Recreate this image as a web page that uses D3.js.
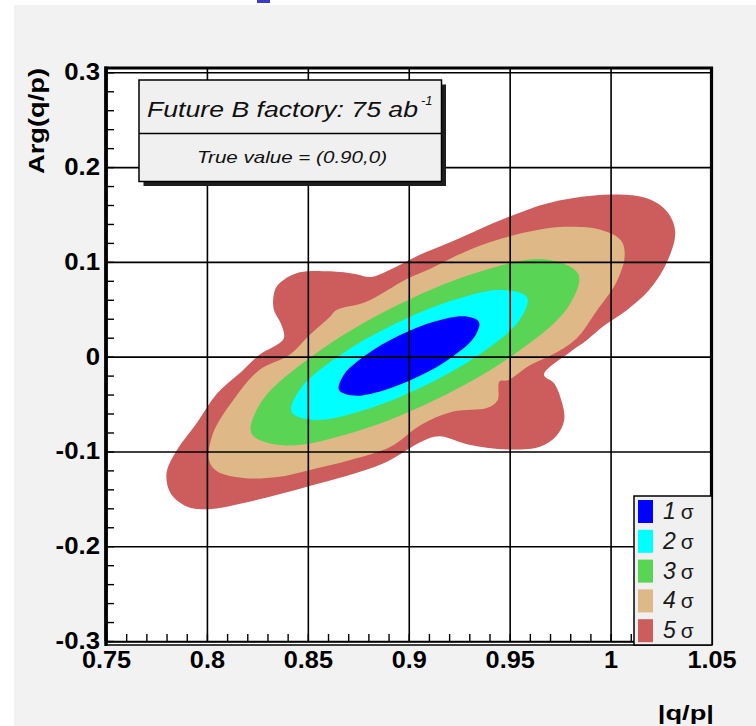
<!DOCTYPE html>
<html><head><meta charset="utf-8">
<script src="https://cdn.jsdelivr.net/npm/d3@7"></script>
<style>body{margin:0;background:#fff;} svg{display:block}</style>
</head><body><svg id="c" width="756" height="726"></svg>
<script>
// ---------- data ----------
const xTicks = [0.75, 0.8, 0.85, 0.9, 0.95, 1.0, 1.05];
const xTickLabels = ["0.75", "0.8", "0.85", "0.9", "0.95", "1", "1.05"];
const yTicks = [-0.3, -0.2, -0.1, 0, 0.1, 0.2, 0.3];
const yTickLabels = ["-0.3", "-0.2", "-0.1", "0", "0.1", "0.2", "0.3"];
const levelNames = ["1", "2", "3", "4", "5"];
const levelColors = ["#0000ff", "#00ffff", "#59d454", "#deb887", "#cd5c5c"];
const titleText = "Future B factory: 75 ab";
const titleSup = "-1";
const subText = "True value = (0.90,0)";
const xLabel = "|q/p|";
const yLabel = "Arg(q/p)";

// contour outlines, in data units [|q/p|, Arg(q/p)]
const contour5 = [[0.826,0.002],[0.838,0.019],[0.837,0.033],[0.833,0.051],[0.834,0.072],[0.838,0.081],[0.846,0.089],[0.861,0.090],[0.874,0.087],[0.881,0.084],[0.891,0.092],[0.904,0.106],[0.922,0.122],[0.949,0.147],[0.971,0.163],[1.000,0.171],[1.018,0.167],[1.028,0.153],[1.032,0.132],[1.028,0.100],[1.019,0.070],[1.008,0.049],[0.997,0.033],[0.988,0.017],[0.980,0.005],[0.967,-0.019],[0.972,-0.028],[0.976,-0.049],[0.977,-0.067],[0.973,-0.084],[0.965,-0.095],[0.949,-0.098],[0.930,-0.093],[0.915,-0.084],[0.906,-0.090],[0.887,-0.113],[0.850,-0.137],[0.821,-0.153],[0.800,-0.161],[0.790,-0.158],[0.782,-0.144],[0.780,-0.123],[0.785,-0.099],[0.795,-0.070],[0.805,-0.039],[0.818,-0.014]];
const contour4 = [[0.841,0.002],[0.851,0.023],[0.861,0.042],[0.864,0.049],[0.879,0.058],[0.899,0.082],[0.911,0.093],[0.922,0.105],[0.939,0.120],[0.960,0.132],[0.977,0.137],[0.995,0.134],[1.005,0.123],[1.007,0.107],[1.003,0.079],[0.993,0.048],[0.983,0.019],[0.971,0.002],[0.960,-0.009],[0.949,-0.025],[0.945,-0.026],[0.944,-0.046],[0.939,-0.054],[0.922,-0.058],[0.906,-0.072],[0.891,-0.095],[0.871,-0.109],[0.850,-0.120],[0.835,-0.127],[0.818,-0.128],[0.805,-0.121],[0.801,-0.109],[0.803,-0.081],[0.813,-0.046],[0.826,-0.014]];
const contour3 = [[0.9841,0.0868],[0.9787,0.0517],[0.9530,0.0037],[0.9139,-0.0447],[0.8719,-0.0803],[0.8383,-0.0936],[0.8221,-0.0811],[0.8275,-0.0460],[0.8532,0.0021],[0.8923,0.0520],[0.9343,0.0890],[0.9679,0.1025]];
const contour2 = [[0.9587,0.0622],[0.9546,0.0378],[0.9360,0.0038],[0.9078,-0.0308],[0.8776,-0.0566],[0.8536,-0.0668],[0.8420,-0.0586],[0.8462,-0.0342],[0.8648,-0.0002],[0.8930,0.0344],[0.9231,0.0602],[0.9472,0.0704]];
const contour1 = [[0.9348,0.0366],[0.9326,0.0210],[0.9217,0.0000],[0.9050,-0.0208],[0.8871,-0.0359],[0.8726,-0.0411],[0.8655,-0.0352],[0.8677,-0.0195],[0.8786,0.0015],[0.8952,0.0223],[0.9132,0.0374],[0.9277,0.0426]];
const contours = [contour5, contour4, contour3, contour2, contour1];

// ---------- drawing ----------
const svg = d3.select("#c");
const L = 106, R = 711.5, T = 72.3, B = 641;
const x = d3.scaleLinear().domain([0.75, 1.05]).range([L, R]);
const y = d3.scaleLinear().domain([-0.3, 0.3]).range([B, T]);

function stretch(sel, k) {
  sel.each(function () {
    const len = this.getComputedTextLength();
    d3.select(this).attr("textLength", len * k).attr("lengthAdjust", "spacingAndGlyphs");
  });
}

// canvas
svg.append("rect").attr("x", 0).attr("y", 0).attr("width", 756).attr("height", 726).attr("fill", "#ffffff");
svg.append("rect").attr("x", 14).attr("y", 5).attr("width", 742).attr("height", 721).attr("fill", "#f2f2f2");
svg.append("rect").attr("x", 257).attr("y", 0).attr("width", 13).attr("height", 3).attr("fill", "#3a3ac8");

// plot area
svg.append("rect").attr("x", L).attr("y", 68).attr("width", R - L).attr("height", 645 - 68).attr("fill", "#ffffff");

// contours
const line = d3.line().x(d => x(d[0])).y(d => y(d[1])).curve(d3.curveCatmullRomClosed.alpha(0.5));
svg.append("g").selectAll("path").data(contours).join("path")
  .attr("d", d => line(d))
  .attr("fill", (d, i) => levelColors[levelColors.length - 1 - i])
  .attr("stroke", "none");

// grid + major ticks
const fontAx = "'Liberation Sans', Arial, Helvetica, sans-serif";
const gx = svg.append("g").attr("transform", `translate(0,${B})`)
  .call(d3.axisBottom(x).tickValues(xTicks).tickFormat((d, i) => xTickLabels[i]).tickSize(-(B - 68)).tickPadding(11));
gx.select(".domain").remove();
gx.selectAll(".tick line").attr("stroke", "#000").attr("stroke-width", 1.6);
gx.selectAll(".tick text").attr("font-family", fontAx).attr("font-weight", "bold").attr("font-size", 23).attr("fill", "#000");
stretch(gx.selectAll(".tick text"), 1.1);

const gy = svg.append("g").attr("transform", `translate(${L},0)`)
  .call(d3.axisLeft(y).tickValues(yTicks).tickFormat((d, i) => yTickLabels[i]).tickSize(-(R - L)).tickPadding(6));
gy.select(".domain").remove();
gy.selectAll(".tick line").attr("stroke", "#000").attr("stroke-width", 1.6);
gy.selectAll(".tick text").attr("font-family", fontAx).attr("font-weight", "bold").attr("font-size", 23).attr("fill", "#000");
stretch(gy.selectAll(".tick text"), 1.12);

// minor ticks
const xMinor = d3.range(0, 31).map(i => +(0.75 + i * 0.01).toFixed(2));
const gxm = svg.append("g").attr("transform", `translate(0,${B})`)
  .call(d3.axisBottom(x).tickValues(xMinor).tickSize(-7).tickFormat(""));
gxm.select(".domain").remove();
gxm.selectAll(".tick line").attr("stroke", "#000").attr("stroke-width", 1.4);
const yMinor = d3.range(0, 31).map(i => +(-0.3 + i * 0.02).toFixed(2));
const gym = svg.append("g").attr("transform", `translate(${L},0)`)
  .call(d3.axisLeft(y).tickValues(yMinor).tickSize(-8).tickFormat(""));
gym.select(".domain").remove();
gym.selectAll(".tick line").attr("stroke", "#000").attr("stroke-width", 1.4);

// frame
svg.append("path").attr("d", `M${L},${B}V68H${R}V645`).attr("fill", "none").attr("stroke", "#000").attr("stroke-width", 3.2);
svg.append("line").attr("x1", L).attr("x2", R).attr("y1", B + 1).attr("y2", B + 1).attr("stroke", "#000").attr("stroke-width", 1.6);
svg.append("line").attr("x1", L).attr("x2", R).attr("y1", 645).attr("y2", 645).attr("stroke", "#000").attr("stroke-width", 1.6);
svg.append("line").attr("x1", L).attr("x2", L).attr("y1", 66.5).attr("y2", 646).attr("stroke", "#000").attr("stroke-width", 3.5);

// axis titles
const xl = svg.append("text").attr("x", 714).attr("y", 720).attr("text-anchor", "end")
  .attr("font-family", fontAx).attr("font-weight", "bold").attr("font-size", 21).attr("fill", "#000").text(xLabel);
stretch(xl, 1.3);
const yl = svg.append("text").attr("transform", "translate(44,68) rotate(-90)").attr("text-anchor", "end")
  .attr("font-family", fontAx).attr("font-weight", "bold").attr("font-size", 22).attr("fill", "#000").text(yLabel);
yl.attr("textLength", 106).attr("lengthAdjust", "spacingAndGlyphs");

// title box
svg.append("rect").attr("x", 143.5).attr("y", 84.5).attr("width", 302.5).attr("height", 101.5).attr("fill", "#1e1e1e");
svg.append("rect").attr("x", 139).attr("y", 80).attr("width", 302.5).attr("height", 101.5).attr("fill", "#f0f0f0").attr("stroke", "#000").attr("stroke-width", 1.5);
svg.append("line").attr("x1", 139).attr("x2", 441.5).attr("y1", 133.5).attr("y2", 133.5).attr("stroke", "#000").attr("stroke-width", 1.5);
svg.append("text").attr("x", 147).attr("y", 117).attr("font-family", fontAx).attr("font-style", "italic")
  .attr("font-size", 22.5).attr("fill", "#111").text(titleText)
  .attr("textLength", 271).attr("lengthAdjust", "spacingAndGlyphs");
svg.append("text").attr("x", 421).attr("y", 105).attr("font-family", fontAx).attr("font-style", "italic")
  .attr("font-size", 13).attr("fill", "#111").text(titleSup);
svg.append("text").attr("x", 197).attr("y", 163).attr("font-family", fontAx).attr("font-style", "italic")
  .attr("font-size", 16.5).attr("fill", "#111").text(subText)
  .attr("textLength", 190).attr("lengthAdjust", "spacingAndGlyphs");

// legend
svg.append("rect").attr("x", 634).attr("y", 496).attr("width", 78).attr("height", 149)
  .attr("fill", "#f0f0f0").attr("stroke", "#000").attr("stroke-width", 1.5);
const leg = svg.append("g").selectAll("g").data(levelNames).join("g")
  .attr("transform", (d, i) => `translate(638,${500 + i * 29.8})`);
leg.append("rect").attr("x", 0).attr("y", 0).attr("width", 15).attr("height", 23)
  .attr("fill", (d, i) => levelColors[i]);
const lt = leg.append("text").attr("x", 25).attr("y", 19).attr("font-family", fontAx).attr("font-size", 23).attr("fill", "#1a1a1a");
lt.append("tspan").attr("font-style", "italic").text(d => d);
lt.append("tspan").attr("dx", 5).attr("font-size", 21).text("σ");
</script></body></html>
